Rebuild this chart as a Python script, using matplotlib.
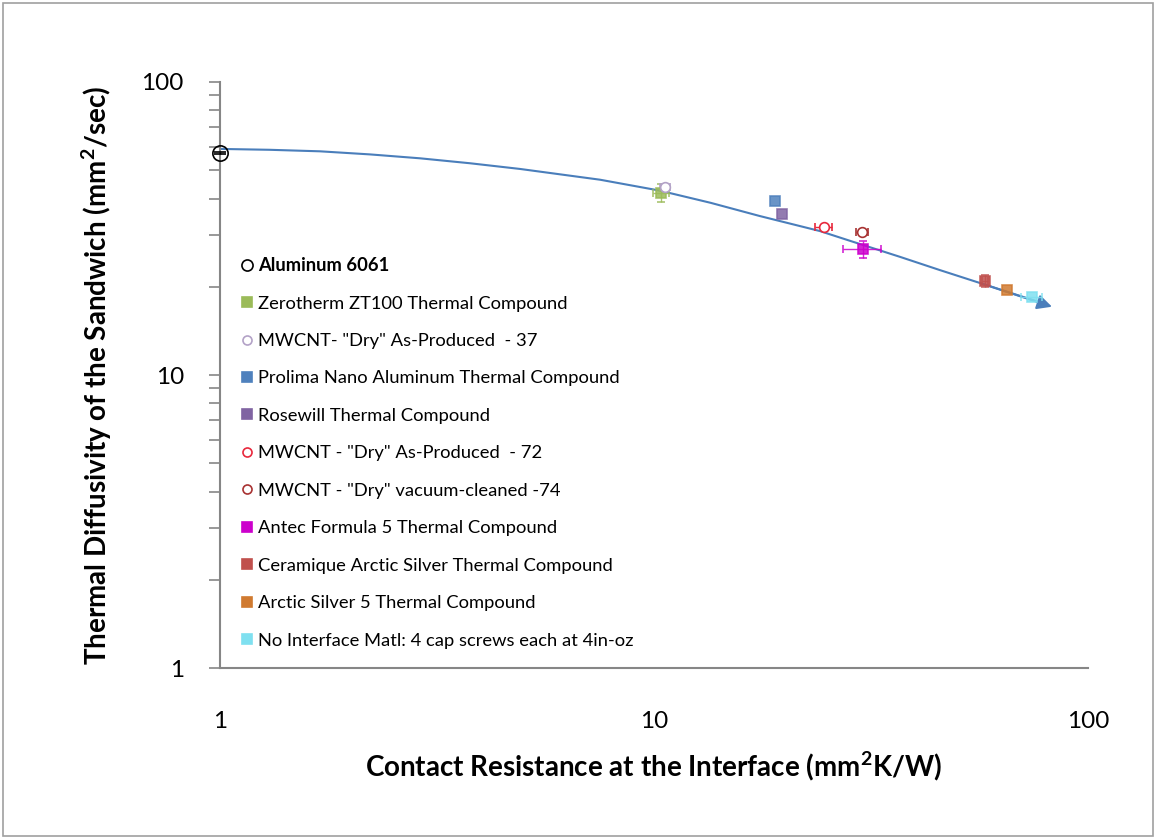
import matplotlib
matplotlib.use('Agg')
import matplotlib.pyplot as plt

plt.rcParams['font.family'] = ['Lato', 'DejaVu Sans']

# ─── Data ────────────────────────────────────────────────────────────────────
labels = [
    'Aluminum 6061',
    'Zerotherm ZT100 Thermal Compound',
    'MWCNT- "Dry" As-Produced  - 37',
    'Prolima Nano Aluminum Thermal Compound',
    'Rosewill Thermal Compound',
    'MWCNT - "Dry" As-Produced  - 72',
    'MWCNT - "Dry" vacuum-cleaned -74',
    'Antec Formula 5 Thermal Compound',
    'Ceramique Arctic Silver Thermal Compound',
    'Arctic Silver 5 Thermal Compound',
    'No Interface Matl: 4 cap screws each at 4in-oz',
]
contact_res = [1.0, 10.4, 10.6, 19.0, 19.7, 24.6, 30.2, 30.3, 57.9, 65.1, 74.3]
diffusivity = [57.3, 41.8, 43.8, 39.3, 35.4, 32.0, 30.8, 26.9, 20.9, 19.5, 18.5]
x_err = [0.0, 0.45, 0.3, 0.0, 0.0, 1.1, 1.0, 3.0, 0.8, 0.0, 4.2]
y_err = [0.6, 3.0, 1.2, 0.0, 0.0, 0.0, 0.5, 1.8, 1.0, 0.0, 0.0]
markers = ['o', 's', 'o', 's', 's', 'o', 'o', 's', 's', 's', 's']
colors = ['#000000', '#9BBB59', '#B3A2C7', '#4F81BD', '#8064A2', '#E8283C',
          '#A83232', '#CC00CC', '#C0504D', '#D07A30', '#7FE0F0']
filled = [False, True, False, True, True, False, False, True, True, True, True]

# trend line
trend_x = [1.0, 1.30, 1.70, 2.22, 2.89, 3.77, 4.91, 7.51, 10.3, 13.5, 17.5,
           24.1, 28.3, 36.9, 45.6, 56.4, 77.5, 82.6]
trend_y = [59.1, 58.7, 58.0, 56.6, 54.9, 52.8, 50.5, 46.4, 42.6, 38.7, 34.9,
           31.0, 28.7, 25.3, 22.8, 20.6, 17.7, 17.1]

fig = plt.figure(figsize=(11.54, 8.38), dpi=100)
ax = fig.add_axes([220 / 1154, 1 - 668 / 838, 868 / 1154, 586 / 838])

# outer chart frame
fig.patches.append(plt.Rectangle((3 / 1154, 0.002), 1 - 4 / 1154, 1 - 5 / 838,
                                 transform=fig.transFigure, fill=False,
                                 edgecolor='#A0A0A0', linewidth=1.2))

ax.plot(trend_x[:-1], trend_y[:-1], color='#4A7EBB', linewidth=1.5, zorder=2,
        solid_joinstyle='round')
ax.annotate('', xy=(trend_x[-1], trend_y[-1]), xytext=(trend_x[-3], trend_y[-3]),
            arrowprops=dict(arrowstyle='-|>', color='#4A7EBB', lw=1.5,
                            mutation_scale=22, shrinkA=0, shrinkB=0), zorder=2)

handles = []
for i in range(len(labels)):
    ms = 11 if i == 0 else 7
    if i == 0:
        face = 'none'
    else:
        face = colors[i] if filled[i] else 'white'
    eb = ax.errorbar(contact_res[i], diffusivity[i],
                     xerr=x_err[i] if x_err[i] > 0 else None,
                     yerr=y_err[i] if y_err[i] > 0 else None,
                     fmt=markers[i], markersize=ms,
                     markerfacecolor=face,
                     markeredgecolor=colors[i], markeredgewidth=1.2,
                     ecolor=colors[i], elinewidth=1.0, capsize=4 if i == 0 else 3,
                     alpha=0.85 if filled[i] else 1.0, zorder=3)
    for art in eb.get_children():
        art.set_clip_on(False)
    handles.append(ax.plot([], [], linestyle='none', marker=markers[i],
                           markersize=8 if i == 0 else 6.5,
                           markerfacecolor=colors[i] if filled[i] else 'white',
                           markeredgecolor=colors[i], markeredgewidth=1.2)[0])

ax.set_xscale('log')
ax.set_yscale('log')
ax.set_xlim(1, 100)
ax.set_ylim(1, 100)
ax.set_xticks([1, 10, 100])
ax.set_xticklabels(['1', '10', '100'])
ax.set_yticks([1, 10, 100])
ax.set_yticklabels(['1', '10', '100'])
ax.xaxis.set_minor_locator(matplotlib.ticker.NullLocator())

for s in ['top', 'right']:
    ax.spines[s].set_visible(False)
for s in ['left', 'bottom']:
    ax.spines[s].set_color('#868686')
    ax.spines[s].set_linewidth(1.5)

ax.tick_params(axis='x', length=0, labelsize=17.5, pad=31)
ax.tick_params(axis='y', which='both', length=8, color='#868686', width=1.2,
               labelsize=17.5, pad=18)
ax.tick_params(axis='y', which='minor', labelleft=False)

ax.set_xlabel('Contact Resistance at the Interface (mm$^{\\mathregular{2}}$K/W)',
              fontsize=20, fontweight='bold', labelpad=12)
ax.set_ylabel('Thermal Diffusivity of the Sandwich (mm$^{\\mathregular{2}}$/sec)',
              fontsize=20, fontweight='bold', labelpad=20)

leg = ax.legend(handles, labels, loc='upper left', bbox_to_anchor=(0.01, 0.72),
                frameon=False, fontsize=13.2, labelspacing=1.17,
                handlelength=0.8, handletextpad=0.2, borderaxespad=0.2)
leg.get_texts()[0].set_fontweight('bold')

fig.savefig('out.png', dpi=100)
